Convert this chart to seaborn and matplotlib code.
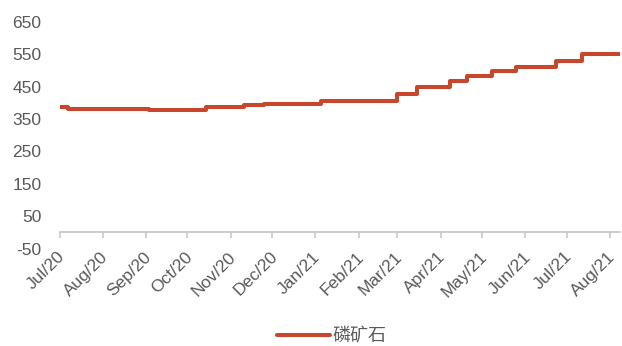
import pandas as pd
import matplotlib
matplotlib.use("Agg")
import matplotlib.pyplot as plt
import matplotlib.dates as mdates
import matplotlib.transforms as mtransforms
import seaborn as sns

# price change dates and the price from that date on (step series)
change_dates = ["2020-07-01", "2020-07-07", "2020-09-03", "2020-10-14", "2020-11-11",
                "2020-11-25", "2021-01-05", "2021-03-01", "2021-03-15", "2021-04-08",
                "2021-04-20", "2021-05-08", "2021-05-25", "2021-06-23", "2021-07-12",
                "2021-08-08"]
prices = [388, 380, 377, 388, 392, 397, 405, 428, 450, 468, 482, 499, 511, 528, 550, 550]
series_name = "磷矿石"
y_ticks = [-50, 50, 150, 250, 350, 450, 550, 650]

df = pd.DataFrame({"date": pd.to_datetime(change_dates), "price": prices})

sns.set_theme(style="white")
plt.rcParams['font.family'] = ['Liberation Sans', 'Noto Sans CJK SC', 'DejaVu Sans']
plt.rcParams['axes.unicode_minus'] = False

fig = plt.figure(figsize=(6.22, 3.46), dpi=100)
ax = fig.add_axes([59.5 / 622, 1 - 248.6 / 346, (620 - 59.5) / 622, (248.6 - 21.7) / 346])

sns.lineplot(data=df, x="date", y="price", ax=ax, color="#C9452B", linewidth=2.9,
             drawstyle="steps-post", label=series_name, legend=False)

ax.set_xlim(pd.Timestamp("2020-07-01"), pd.Timestamp("2021-08-08"))
ax.set_ylim(-50, 650)
ax.set_yticks(y_ticks)
ax.set_xlabel("")
ax.set_ylabel("")

ax.xaxis.set_major_locator(mdates.MonthLocator())
ax.xaxis.set_major_formatter(mdates.DateFormatter("%b/%y"))

for s in ["left", "right", "top"]:
    ax.spines[s].set_visible(False)
ax.spines["bottom"].set_position(("data", 0))
ax.spines["bottom"].set_color("#c8c8c8")
ax.spines["bottom"].set_linewidth(1.3)

ax.tick_params(axis="x", direction="out", length=4, width=1.2, color="#c8c8c8",
               labelsize=12.5, labelcolor="#595959", pad=8, bottom=True)
ax.tick_params(axis="y", length=0, labelsize=12.5, labelcolor="#595959", pad=13)
shift = mtransforms.ScaledTranslation(8 / 100, 0, fig.dpi_scale_trans)
for lab in ax.get_xticklabels():
    lab.set_rotation(45)
    lab.set_ha("right")
    lab.set_transform(lab.get_transform() + shift)

fig.legend(handles=ax.get_lines()[:1], labels=[series_name], loc="center",
           bbox_to_anchor=(332 / 622, 1 - 336 / 346), frameon=False,
           prop={"family": ["Noto Sans CJK SC"], "size": 13},
           labelcolor="#595959", handlelength=2.9, handletextpad=0.15)

fig.savefig("out.png", dpi=100)
